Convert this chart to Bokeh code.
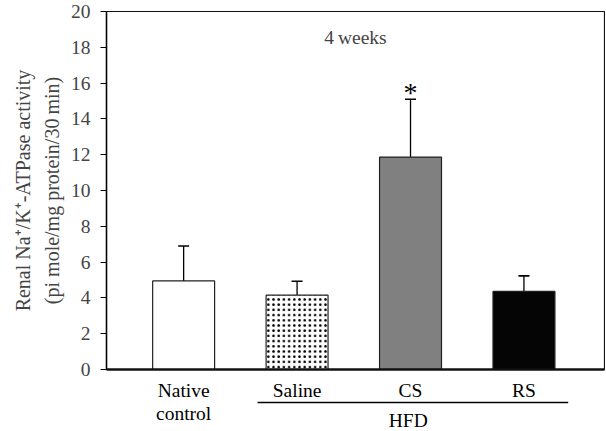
from bokeh.plotting import figure
from bokeh.layouts import column
from bokeh.models import Range1d, FixedTicker, Whisker, TeeHead, Label, ColumnDataSource
from bokeh.embed import file_html
from bokeh.resources import INLINE
from bokeh.core.properties import value

# ---- data ----
groups = ["Native\ncontrol", "Saline", "CS", "RS"]
means = [4.95, 4.15, 11.87, 4.36]
upper_err = [6.9, 4.93, 15.1, 5.23]
colors = ["#ffffff", "#ffffff", "#808080", "#050505"]
hatches = [" ", ".", " ", " "]
y_ticks = [0, 2, 4, 6, 8, 10, 12, 14, 16, 18, 20]
panel_title = "4\u2009weeks"
group_label = "HFD"
group_members = [1, 2, 3]
sig_marks = ["", "", "*", ""]

FONT = "Liberation Serif"
FS = "19.5px"
xs = list(range(len(groups)))
xr = Range1d(-0.68, 3.71)

p = figure(width=605, height=379, output_backend="svg", toolbar_location=None,
           x_range=xr, y_range=Range1d(0, 20),
           min_border_left=106, min_border_right=1, min_border_top=11, min_border_bottom=10)
p.grid.visible = False
p.outline_line_color = "#111111"
p.outline_line_width = 1.2

src = ColumnDataSource(dict(x=xs, top=means, upper=upper_err, color=colors, hatch=hatches,
                            sig=sig_marks))
p.vbar(x="x", top="top", bottom=0, width=0.546, source=src, fill_color="color",
       line_color="#222222", line_width=1.2, hatch_pattern="hatch", hatch_color="black",
       hatch_scale=5.2, hatch_weight=7)

w = Whisker(base="x", upper="upper", lower="top", source=src, dimension="height",
            line_color="black", line_width=1.3,
            upper_head=TeeHead(size=11, line_color="black", line_width=1.6), lower_head=None)
p.add_layout(w)

p.text(x="x", y="upper", text="sig", source=src, text_font=value(FONT), text_font_size="28px",
       text_align="center", text_baseline="alphabetic", y_offset=-7)

# y axis
p.yaxis.ticker = FixedTicker(ticks=y_ticks)
p.yaxis.axis_label = "Renal Na\u207a/K\u207a-ATPase activity\n(pi mole/mg protein/30\u2009min)"
p.yaxis.axis_label_text_font = FONT
p.yaxis.axis_label_text_font_style = "normal"
p.yaxis.axis_label_text_font_size = "20px"
p.yaxis.axis_label_text_line_height = 1.3
p.yaxis.axis_label_standoff = 5
p.yaxis.major_label_text_font = FONT
p.yaxis.major_label_text_font_size = FS
p.yaxis.major_label_standoff = 10
p.yaxis.major_tick_out = 6
p.yaxis.major_tick_in = 0
p.yaxis.minor_tick_out = 0
p.yaxis.minor_tick_in = 0
p.yaxis.axis_line_width = 1.4
p.yaxis.major_tick_line_width = 1.2

# x axis: line only (labels are drawn in the strip below)
p.xaxis.ticker = FixedTicker(ticks=[])
p.xaxis.major_tick_out = 0
p.xaxis.major_tick_in = 0
p.xaxis.minor_tick_out = 0
p.xaxis.minor_tick_in = 0
p.xaxis.axis_line_width = 2.4
p.xaxis.axis_line_color = "#111111"

# panel title inside frame
p.add_layout(Label(x=(xr.start + xr.end) / 2, y=18.55, text=panel_title,
                   text_font=FONT, text_font_size=FS, text_align="center",
                   text_baseline="middle"))

# ---- label strip below the axis (shares x range) ----
q = figure(width=605, height=51, output_backend="svg", toolbar_location=None,
           x_range=xr, y_range=Range1d(51, 0),
           min_border_left=106, min_border_right=1, min_border_top=0, min_border_bottom=0)
q.axis.visible = False
q.grid.visible = False
q.outline_line_color = None

lab = ColumnDataSource(dict(x=xs, text=groups))
q.text(x="x", y=0, text="text", source=lab, text_font=value(FONT), text_font_size=FS,
       text_align="center", text_baseline="top", text_line_height=1.13, text_color="black")

gx0 = min(group_members) - 0.348
gx1 = max(group_members) + 0.39
q.segment(x0=[gx0], x1=[gx1], y0=[23], y1=[23], line_color="black", line_width=1.3)
q.text(x=[sum(group_members) / len(group_members) - 0.02], y=[41], text=[group_label],
       text_font=value(FONT), text_font_size=FS, text_align="center", text_baseline="middle",
       text_color="black")

layout = column(p, q, spacing=0)
open("out.html", "w").write(file_html(layout, INLINE))
